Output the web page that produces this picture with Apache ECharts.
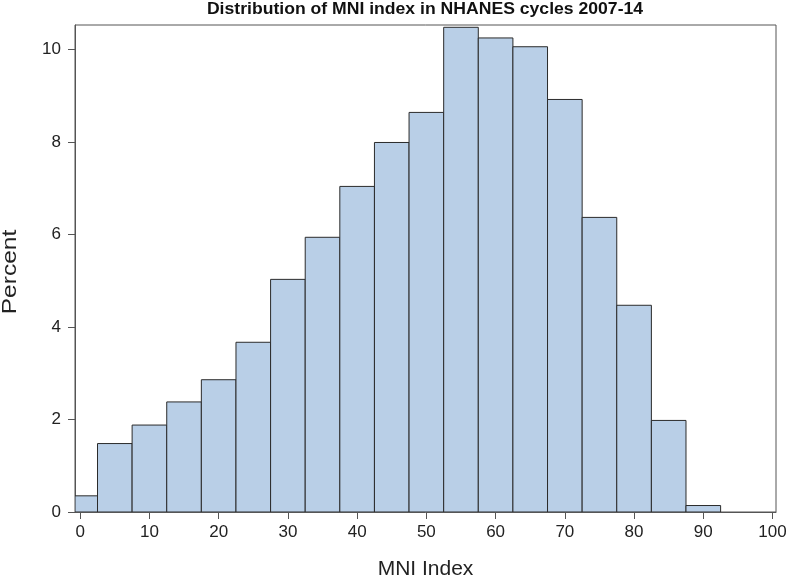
<!DOCTYPE html>
<html>
<head>
<meta charset="utf-8">
<script src="https://cdn.jsdelivr.net/npm/echarts@6/dist/echarts.min.js"></script>
<style>html,body{margin:0;padding:0;background:#fff}#c{width:786px;height:578px}</style>
</head>
<body>
<div id="c"></div>
<script>
var binCenters = [0, 5, 10, 15, 20, 25, 30, 35, 40, 45, 50, 55, 60, 65, 70, 75, 80, 85, 90];
var percents = [0.35, 1.48, 1.88, 2.38, 2.86, 3.67, 5.03, 5.94, 7.04, 7.99, 8.64, 10.48, 10.25, 10.06, 8.92, 6.37, 4.47, 1.98, 0.14];
var binWidth = 5;
var xTicks = [0, 10, 20, 30, 40, 50, 60, 70, 80, 90, 100];
var yTicks = [0, 2, 4, 6, 8, 10];
var titleText = 'Distribution of MNI index in NHANES cycles 2007-14';
var xName = 'MNI Index';
var yName = 'Percent';

var chart = echarts.init(document.getElementById('c'), null, {renderer: 'canvas'});
var data = binCenters.map(function (c, i) { return [c, percents[i]]; });
var axisFont = {fontFamily: 'Liberation Sans, Arial, sans-serif', fontSize: 17, color: '#222'};
chart.setOption({
  animation: false,
  graphic: [{
    type: 'text', x: 425, y: 9.5, scaleX: 1.1,
    style: {text: titleText, x: 0, y: 0, textAlign: 'center', textVerticalAlign: 'middle',
            font: 'bold 16px "Liberation Sans", Arial, sans-serif', fill: '#111'}
  }, {
    type: 'text', x: 10, y: 272, rotation: Math.PI / 2, scaleX: 1.17,
    style: {text: yName, x: 0, y: 0, textAlign: 'center', textVerticalAlign: 'middle',
            font: '21px "Liberation Sans", Arial, sans-serif', fill: '#222'}
  }],
  grid: {left: 75, right: 10, top: 25, bottom: 66, outerBoundsMode: 'none', containLabel: false,
         show: true, borderColor: '#555', borderWidth: 1, backgroundColor: 'transparent'},
  xAxis: {
    type: 'value', min: -0.75, max: 100.5,
    name: xName, nameLocation: 'middle', nameGap: 47,
    nameTextStyle: {fontFamily: 'Liberation Sans, Arial, sans-serif', fontSize: 21, color: '#222'},
    splitLine: {show: false},
    axisLine: {show: true, onZero: false, lineStyle: {color: '#555'}},
    axisTick: {show: true, inside: false, customValues: xTicks, length: 7, lineStyle: {color: '#555'}},
    axisLabel: Object.assign({customValues: xTicks, margin: 12}, axisFont)
  },
  yAxis: {
    type: 'value', min: 0, max: 10.53,
    splitLine: {show: false},
    axisLine: {show: true, onZero: false, lineStyle: {color: '#555'}},
    axisTick: {show: true, inside: false, customValues: yTicks, length: 7, lineStyle: {color: '#555'}},
    axisLabel: Object.assign({customValues: yTicks, margin: 14}, axisFont)
  },
  series: [{
    type: 'custom',
    clip: true,
    data: data,
    renderItem: function (params, api) {
      var c = api.value(0), v = api.value(1);
      var p1 = api.coord([c - binWidth / 2, v]);
      var p2 = api.coord([c + binWidth / 2, 0]);
      var rect = echarts.graphic.clipRectByRect(
        {x: p1[0], y: p1[1], width: p2[0] - p1[0], height: p2[1] - p1[1]},
        {x: params.coordSys.x, y: params.coordSys.y, width: params.coordSys.width, height: params.coordSys.height}
      );
      return rect && {
        type: 'rect', shape: rect,
        style: {fill: '#B9CFE7', stroke: '#2b2b2b', lineWidth: 1}
      };
    }
  }]
});
</script>
</body>
</html>
